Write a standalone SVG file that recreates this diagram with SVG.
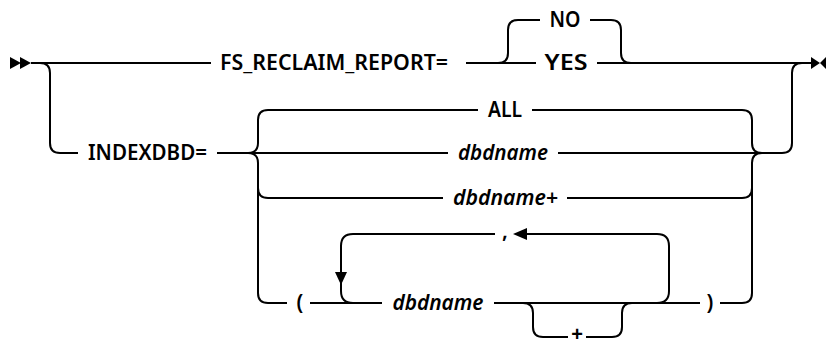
<svg xmlns="http://www.w3.org/2000/svg" width="826" height="345" viewBox="0 0 826 345">
<style>
.c{fill:none;stroke:#000;stroke-width:2}
.a{fill:#000;stroke:none}
.t{font-family:"Noto Sans","Liberation Sans",sans-serif;font-size:21px;font-weight:600;fill:#000;text-anchor:middle}
.i{font-style:italic}
.p{font-family:"Liberation Sans",sans-serif;font-size:20px;font-weight:bold;fill:#000;text-anchor:middle}
</style>
<rect width="826" height="345" fill="#fff"/>
<g id="connectors">
<path class="c" d="M31,63 H211"/>
<path class="c" d="M40,63 Q50,63 50,73 V143 Q50,153 60,153 H78"/>
<path class="c" d="M466,63 H536"/>
<path class="c" d="M498,63 Q508,63 508,53 V30 Q508,20 518,20 H540"/>
<path class="c" d="M590,20 H611 Q621,20 621,30 V53 Q621,63 631,63"/>
<path class="c" d="M597,63 H811"/>
<path class="c" d="M782,153 Q792,153 792,143 V73 Q792,63 802,63"/>
<path class="c" d="M217,153 H448"/>
<path class="c" d="M248,153 Q258,153 258,143 V120 Q258,110 268,110 H478"/>
<path class="c" d="M248,153 Q258,153 258,163 V293 Q258,303 268,303 H287"/>
<path class="c" d="M258,188 Q258,198 268,198 H443"/>
<path class="c" d="M532,110 H742 Q752,110 752,120 V143 Q752,153 762,153"/>
<path class="c" d="M558,153 H782"/>
<path class="c" d="M567,198 H742 Q752,198 752,188"/>
<path class="c" d="M762,153 Q752,153 752,163 V293 Q752,303 742,303 H720"/>
<path class="c" d="M310,303 H382"/>
<path class="c" d="M494,303 H700"/>
<path class="c" d="M353,303 Q341,303 341,291 V246 Q341,234 353,234 H495"/>
<path class="c" d="M527,234 H657 Q669,234 669,246 V291 Q669,303 657,303"/>
<path class="c" d="M523,303 Q533,303 533,313 V327 Q533,337 543,337 H568"/>
<path class="c" d="M586,337 H612 Q622,337 622,327 V313 Q622,303 632,303"/>
<polygon class="a" points="335,272 347,272 341,285"/>
<polygon class="a" points="513,234 527,228 527,240"/>
</g>
<g id="start"><polygon class="a" points="10,57 21,63 10,69"/><polygon class="a" points="20,57 31,63 20,69"/></g>
<g id="end"><polygon class="a" points="811,57 820,63 811,69"/><polygon class="a" points="826,57 820,63 826,69"/></g>
<g id="fs"><text class="t" x="334" y="70" textLength="228" lengthAdjust="spacingAndGlyphs">FS_RECLAIM_REPORT=</text></g>
<g id="no"><text class="t" x="565" y="27" textLength="31" lengthAdjust="spacingAndGlyphs">NO</text></g>
<g id="yes"><text class="t" x="566" y="70" textLength="43" lengthAdjust="spacingAndGlyphs">YES</text></g>
<g id="indexdbd"><text class="t" x="147.5" y="160" textLength="119" lengthAdjust="spacingAndGlyphs">INDEXDBD=</text></g>
<g id="all"><text class="t" x="505" y="117" textLength="34" lengthAdjust="spacingAndGlyphs">ALL</text></g>
<g id="dbdname1"><text class="t i" x="503" y="160" textLength="90" lengthAdjust="spacingAndGlyphs">dbdname</text></g>
<g id="dbdname2"><text class="t i" x="505.5" y="205" textLength="105" lengthAdjust="spacingAndGlyphs">dbdname+</text></g>
<g id="comma"><text class="t" x="505" y="238">,</text></g>
<g id="lparen"><text class="t" x="300" y="310">(</text></g>
<g id="dbdname3"><text class="t i" x="438" y="310" textLength="91" lengthAdjust="spacingAndGlyphs">dbdname</text></g>
<g id="rparen"><text class="t" x="710" y="310">)</text></g>
<g id="plus"><text class="p" x="577" y="340.5">+</text></g>
</svg>
